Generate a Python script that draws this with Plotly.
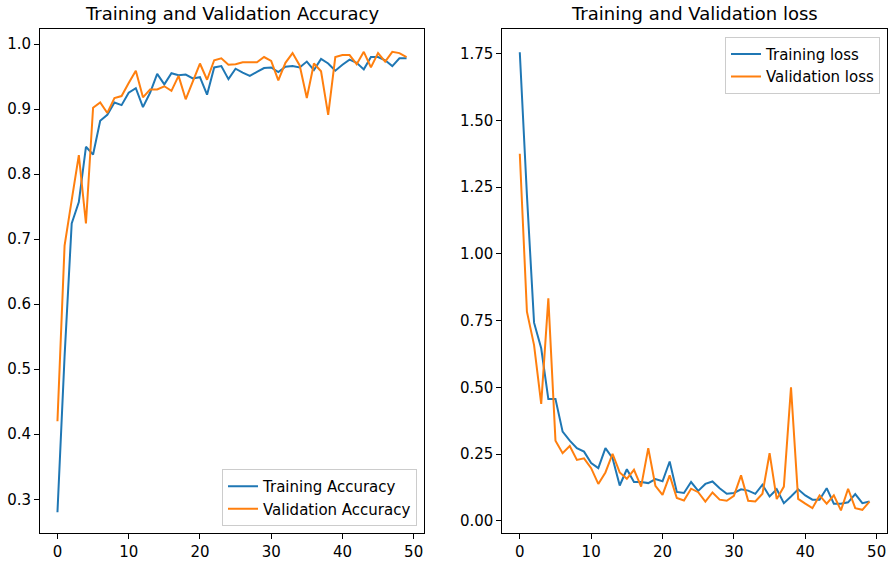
import plotly.graph_objects as go

epochs = list(range(50))

train_acc = [0.28, 0.52, 0.724, 0.757, 0.842, 0.830, 0.882, 0.891, 0.910, 0.906,
             0.925, 0.932, 0.903, 0.925, 0.954, 0.938, 0.955, 0.952, 0.953, 0.947,
             0.949, 0.922, 0.964, 0.966, 0.946, 0.962, 0.956, 0.951, 0.957, 0.963,
             0.964, 0.957, 0.965, 0.966, 0.964, 0.973, 0.960, 0.977, 0.970, 0.959,
             0.968, 0.976, 0.971, 0.961, 0.980, 0.980, 0.975, 0.966, 0.978, 0.978]

val_acc = [0.42, 0.69, 0.76, 0.829, 0.724, 0.902, 0.910, 0.894, 0.917, 0.920,
           0.940, 0.959, 0.918, 0.930, 0.930, 0.935, 0.928, 0.951, 0.915, 0.943,
           0.970, 0.945, 0.975, 0.978, 0.968, 0.969, 0.972, 0.972, 0.972, 0.980,
           0.974, 0.944, 0.971, 0.986, 0.967, 0.917, 0.970, 0.958, 0.891, 0.980,
           0.983, 0.983, 0.969, 0.988, 0.964, 0.986, 0.973, 0.988, 0.986, 0.980]

train_loss = [1.755, 1.22, 0.742, 0.646, 0.456, 0.456, 0.334, 0.300, 0.272, 0.259,
              0.216, 0.197, 0.272, 0.234, 0.132, 0.193, 0.145, 0.145, 0.141, 0.156,
              0.148, 0.222, 0.108, 0.104, 0.145, 0.112, 0.138, 0.147, 0.122, 0.101,
              0.104, 0.118, 0.113, 0.101, 0.135, 0.091, 0.118, 0.066, 0.091, 0.118,
              0.095, 0.079, 0.079, 0.122, 0.064, 0.064, 0.069, 0.100, 0.066, 0.072]

val_loss = [1.375, 0.783, 0.658, 0.438, 0.833, 0.300, 0.253, 0.280, 0.228, 0.234,
            0.197, 0.138, 0.181, 0.251, 0.181, 0.157, 0.191, 0.128, 0.272, 0.131,
            0.097, 0.17, 0.085, 0.076, 0.120, 0.107, 0.072, 0.106, 0.079, 0.075,
            0.093, 0.170, 0.075, 0.072, 0.101, 0.253, 0.081, 0.128, 0.500, 0.082,
            0.064, 0.047, 0.095, 0.064, 0.095, 0.039, 0.120, 0.047, 0.041, 0.072]

acc_ticks = [0.3, 0.4, 0.5, 0.6, 0.7, 0.8, 0.9, 1.0]
loss_ticks = [0.0, 0.25, 0.5, 0.75, 1.0, 1.25, 1.5, 1.75]
x_ticks = [0, 10, 20, 30, 40, 50]

BLUE = "#1f77b4"
ORANGE = "#ff7f0e"
FONT = "DejaVu Sans"

W, H = 895, 563

fig = go.Figure()
fig.add_trace(go.Scatter(x=epochs, y=train_acc, mode="lines", name="Training Accuracy",
                         line=dict(color=BLUE, width=2), xaxis="x", yaxis="y", legend="legend"))
fig.add_trace(go.Scatter(x=epochs, y=val_acc, mode="lines", name="Validation Accuracy",
                         line=dict(color=ORANGE, width=2), xaxis="x", yaxis="y", legend="legend"))
fig.add_trace(go.Scatter(x=epochs, y=train_loss, mode="lines", name="Training loss",
                         line=dict(color=BLUE, width=2), xaxis="x2", yaxis="y2", legend="legend2"))
fig.add_trace(go.Scatter(x=epochs, y=val_loss, mode="lines", name="Validation loss",
                         line=dict(color=ORANGE, width=2), xaxis="x2", yaxis="y2", legend="legend2"))

top = 29.3
bottom = 533.3
ydom = [(H - bottom) / H, (H - top) / H]
xdom1 = [40 / W, 424 / W]
xdom2 = [502.3 / W, 887 / W]

axis_common = dict(showline=True, linecolor="black", linewidth=1, mirror=True,
                   ticks="outside", ticklen=5, tickwidth=1, tickcolor="black",
                   showgrid=False, zeroline=False,
                   tickfont=dict(family=FONT, size=15, color="black"))

fig.update_layout(
    width=W, height=H,
    margin=dict(l=0, r=0, t=0, b=0),
    paper_bgcolor="white", plot_bgcolor="white",
    font=dict(family=FONT, size=15, color="black"),
    xaxis=dict(domain=xdom1, range=[-2.45, 51.45], tickvals=x_ticks, anchor="y", **axis_common),
    yaxis=dict(domain=ydom, range=[0.2477, 1.0226], tickvals=acc_ticks, tickformat=".1f",
               anchor="x", **axis_common),
    xaxis2=dict(domain=xdom2, range=[-2.45, 51.45], tickvals=x_ticks, anchor="y2", **axis_common),
    yaxis2=dict(domain=ydom, range=[-0.047, 1.841], tickvals=loss_ticks, tickformat=".2f",
                anchor="x2", **axis_common),
    legend=dict(x=417 / W, y=(H - 526) / H, xanchor="right", yanchor="bottom",
                bgcolor="rgba(255,255,255,0.8)", bordercolor="#cccccc", borderwidth=1,
                font=dict(family=FONT, size=15, color="black")),
    legend2=dict(x=880 / W, y=(H - 36.7) / H, xanchor="right", yanchor="top",
                 bgcolor="rgba(255,255,255,0.8)", bordercolor="#cccccc", borderwidth=1,
                 font=dict(family=FONT, size=15, color="black")),
    annotations=[
        dict(text="Training and Validation Accuracy", x=(xdom1[0] + xdom1[1]) / 2,
             y=(H - 14) / H, xref="paper", yref="paper", xanchor="center", yanchor="middle",
             showarrow=False, font=dict(family=FONT, size=18, color="black")),
        dict(text="Training and Validation loss", x=(xdom2[0] + xdom2[1]) / 2,
             y=(H - 14) / H, xref="paper", yref="paper", xanchor="center", yanchor="middle",
             showarrow=False, font=dict(family=FONT, size=18, color="black")),
    ],
)

fig.write_html("out.html")
